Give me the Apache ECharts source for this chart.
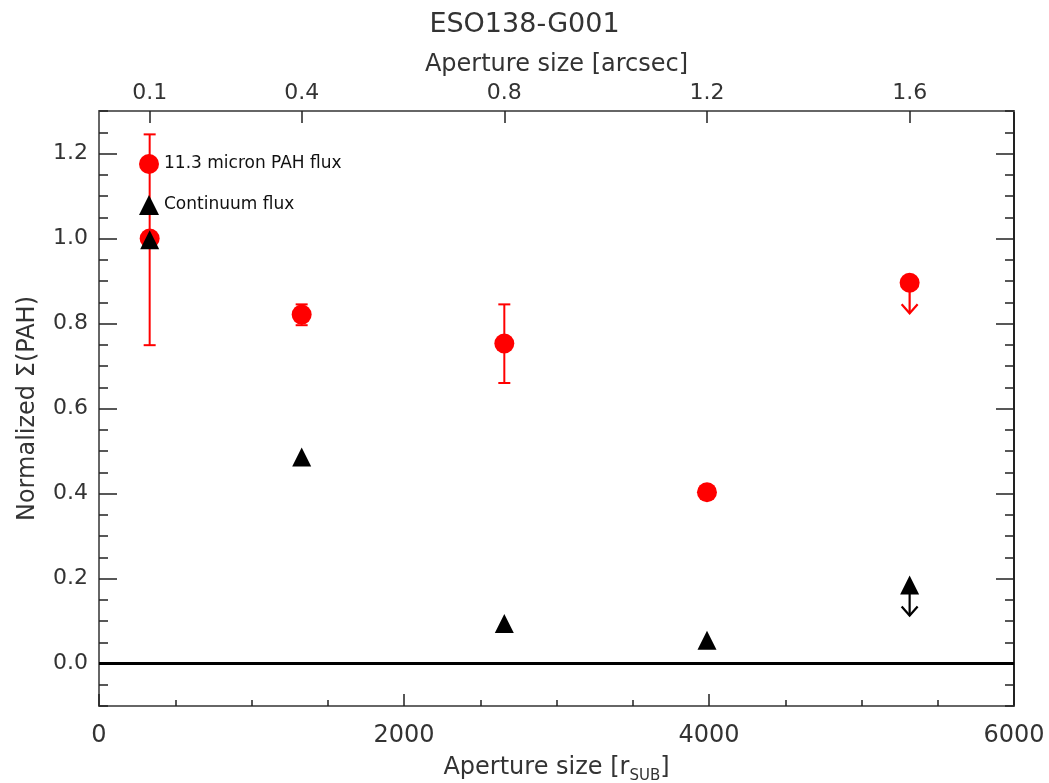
<!DOCTYPE html>
<html>
<head>
<meta charset="utf-8">
<script src="https://cdn.jsdelivr.net/npm/echarts@6/dist/echarts.min.js"></script>
<style>
html,body{margin:0;padding:0;background:#fff;}
#chart{width:1049px;height:783px;}
</style>
</head>
<body>
<div id="chart"></div>
<script>
// ---- data ----
const titleText = 'ESO138-G001';
const apertureArcsec = [0.1, 0.4, 0.8, 1.2, 1.6];
const pahFlux = [1.0, 0.821, 0.753, 0.403, 0.896];
const pahErrLow = [0.749, 0.796, 0.660, null, null];
const pahErrHigh = [1.245, 0.845, 0.845, null, null];
const contFlux = [0.997, 0.486, 0.094, 0.055, 0.185];
// upper limits: index of point and arrow tip value
const pahLimitIdx = [4];
const pahLimitTip = [0.824];
const contLimitIdx = [4];
const contLimitTip = [0.113];
const topTickValues = [0.1, 0.4, 0.8, 1.2, 1.6];
const yTickValues = [0.0, 0.2, 0.4, 0.6, 0.8, 1.0, 1.2];

const FONT = 'DejaVu Sans';
const TXT = '#333';

const chart = echarts.init(document.getElementById('chart'), null, {renderer: 'canvas'});

const errData = apertureArcsec.map((x, i) => [x, pahErrLow[i], pahErrHigh[i]]).filter(d => d[1] != null);
const limitData = [];
pahLimitIdx.forEach((idx, k) => limitData.push([apertureArcsec[idx], pahFlux[idx], pahLimitTip[k], 0]));
contLimitIdx.forEach((idx, k) => limitData.push([apertureArcsec[idx], contFlux[idx], contLimitTip[k], 1]));

function errRender(params, api) {
  const x = api.value(0);
  const lo = api.coord([x, api.value(1)]);
  const hi = api.coord([x, api.value(2)]);
  const cap = 6;
  const style = {stroke: '#ff0000', lineWidth: 2};
  return {type: 'group', children: [
    {type: 'line', shape: {x1: lo[0], y1: lo[1], x2: hi[0], y2: hi[1]}, style},
    {type: 'line', shape: {x1: lo[0]-cap, y1: lo[1], x2: lo[0]+cap, y2: lo[1]}, style},
    {type: 'line', shape: {x1: hi[0]-cap, y1: hi[1], x2: hi[0]+cap, y2: hi[1]}, style}
  ]};
}
function limitRender(params, api) {
  const x = api.value(0);
  const p = api.coord([x, api.value(1)]);
  const t = api.coord([x, api.value(2)]);
  const color = api.value(3) === 0 ? '#ff0000' : '#000000';
  const style = {stroke: color, lineWidth: 2.2, fill: null};
  return {type: 'group', children: [
    {type: 'line', shape: {x1: p[0], y1: p[1], x2: t[0], y2: t[1]}, style},
    {type: 'polyline', shape: {points: [[t[0]-8, t[1]-9], [t[0], t[1]], [t[0]+8, t[1]-9]]}, style}
  ]};
}

const axisLineStyle = {color: '#666', width: 2};
const tickStyle = {color: '#222', width: 1.5};
const labelStyle = {fontFamily: FONT, fontSize: 22, color: TXT};

const yBase = {type: 'value', min: -0.1, max: 1.3, splitLine: {show: false}};

const option = {
  backgroundColor: '#fff',
  animation: false,
  title: {
    text: titleText, left: 'center', top: 6,
    textStyle: {fontFamily: FONT, fontSize: 27, fontWeight: 'normal', color: TXT}
  },
  legend: {
    orient: 'vertical', left: 134, top: 149, itemWidth: 20, itemHeight: 20, itemGap: 21,
    textStyle: {fontFamily: FONT, fontSize: 17, color: '#111'},
    data: ['11.3 micron PAH flux', 'Continuum flux']
  },
  grid: {left: 99, right: 35, top: 111, bottom: 77, containLabel: false, outerBoundsMode: 'none'},
  xAxis: [
    {
      type: 'value', position: 'bottom', min: 0, max: 6000, interval: 2000,
      axisLine: {show: true, onZero: false, lineStyle: axisLineStyle},
      axisTick: {show: true, inside: true, length: 12, lineStyle: tickStyle},
      minorTick: {show: true, splitNumber: 4, length: 6, lineStyle: tickStyle},
      splitLine: {show: false}, minorSplitLine: {show: false},
      axisLabel: {margin: 18, formatter: v => String(v), fontFamily: FONT, fontSize: 24, color: TXT},
      name: '{a|Aperture size [r}{s|SUB}{a|]}',
      nameLocation: 'middle', nameGap: 44,
      nameTextStyle: {
        fontFamily: FONT, color: TXT,
        rich: {
          a: {fontFamily: FONT, fontSize: 24, color: TXT, lineHeight: 30, verticalAlign: 'bottom'},
          s: {fontFamily: FONT, fontSize: 15, color: TXT, lineHeight: 30, verticalAlign: 'bottom', padding: [0, 0, -4, 0]}
        }
      }
    },
    {
      type: 'value', position: 'top', min: 0, max: 1.806,
      axisLine: {show: true, onZero: false, lineStyle: axisLineStyle},
      axisTick: {show: true, inside: true, length: 12, lineStyle: tickStyle, customValues: topTickValues},
      splitLine: {show: false},
      axisLabel: Object.assign({margin: 7, customValues: topTickValues, formatter: v => v.toFixed(1)}, labelStyle),
      name: 'Aperture size [arcsec]', nameLocation: 'middle', nameGap: 29,
      nameTextStyle: {fontFamily: FONT, fontSize: 24, color: TXT}
    }
  ],
  yAxis: [
    Object.assign({}, yBase, {
      position: 'left',
      axisLine: {show: true, onZero: false, lineStyle: axisLineStyle},
      axisTick: {show: true, inside: true, length: 18, lineStyle: tickStyle, customValues: yTickValues},
      axisLabel: Object.assign({margin: 11, customValues: yTickValues, formatter: v => v.toFixed(1)}, labelStyle),
      name: 'Normalized Σ(PAH)', nameLocation: 'middle', nameGap: 59, nameRotate: 90,
      nameTextStyle: {fontFamily: FONT, fontSize: 24, color: TXT}
    }),
    Object.assign({}, yBase, {
      position: 'left', interval: 0.05,
      axisLine: {show: false, onZero: false},
      axisTick: {show: true, inside: true, length: 9, lineStyle: tickStyle},
      axisLabel: {show: false}
    }),
    Object.assign({}, yBase, {
      position: 'right',
      axisLine: {show: true, onZero: false, lineStyle: {color: '#222', width: 2}},
      axisTick: {show: true, inside: true, length: 18, lineStyle: tickStyle, customValues: yTickValues},
      axisLabel: {show: false}
    }),
    Object.assign({}, yBase, {
      position: 'right', interval: 0.05,
      axisLine: {show: false, onZero: false},
      axisTick: {show: true, inside: true, length: 9, lineStyle: tickStyle},
      axisLabel: {show: false}
    })
  ],
  series: [
    {
      type: 'custom', name: 'PAH error', xAxisIndex: 1, yAxisIndex: 0,
      renderItem: errRender, data: errData, silent: true, z: 2,
      markLine: {
        silent: true, symbol: ['none', 'none'], label: {show: false},
        lineStyle: {color: '#000', width: 3, type: 'solid'},
        data: [{yAxis: 0}]
      }
    },
    {
      type: 'custom', name: 'limits', xAxisIndex: 1, yAxisIndex: 0,
      renderItem: limitRender, data: limitData, silent: true, z: 2
    },
    {
      type: 'scatter', name: '11.3 micron PAH flux', xAxisIndex: 1, yAxisIndex: 0,
      symbol: 'circle', symbolSize: 20, itemStyle: {color: '#ff0000', opacity: 1},
      data: apertureArcsec.map((x, i) => [x, pahFlux[i]]), z: 3
    },
    {
      type: 'scatter', name: 'Continuum flux', xAxisIndex: 1, yAxisIndex: 0,
      symbol: 'triangle', symbolSize: [19, 19], itemStyle: {color: '#000000', opacity: 1},
      data: apertureArcsec.map((x, i) => [x, contFlux[i]]), z: 4
    }
  ]
};
chart.setOption(option);
</script>
</body>
</html>
